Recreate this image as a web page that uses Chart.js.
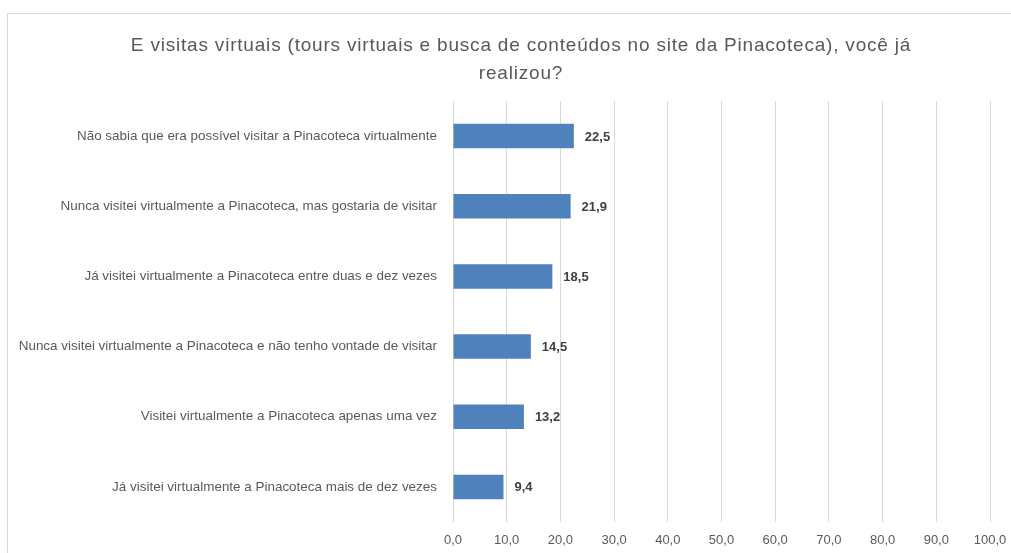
<!DOCTYPE html>
<html>
<head>
<meta charset="utf-8">
<script src="https://cdn.jsdelivr.net/npm/chart.js@4.4.1/dist/chart.umd.min.js"></script>
<style>
  html, body { margin: 0; padding: 0; background: #ffffff; overflow: hidden; width: 1011px; height: 553px; }
  #frame { position: absolute; left: 7px; top: 13px; border-left: 1px solid #d9d9d9; border-top: 1px solid #d9d9d9; width: 1026px; height: 539px; }
  canvas { display: block; }
</style>
</head>
<body>
<div id="frame"><canvas id="c" width="1026" height="539"></canvas></div>
<script>
const titleLines = [
  'E visitas virtuais (tours virtuais e busca de conteúdos no site da Pinacoteca), você já',
  'realizou?'
];
const categories = [
  'Não sabia que era possível visitar a Pinacoteca virtualmente',
  'Nunca visitei virtualmente a Pinacoteca, mas gostaria de visitar',
  'Já visitei virtualmente a Pinacoteca entre duas e dez vezes',
  'Nunca visitei virtualmente a Pinacoteca e não tenho vontade de visitar',
  'Visitei virtualmente a Pinacoteca apenas uma vez',
  'Já visitei virtualmente a Pinacoteca mais de dez vezes'
];
const values = [22.5, 21.9, 18.5, 14.5, 13.2, 9.4];
const axisMin = 0;
const axisMax = 100;
const axisStep = 10;

const fmt = v => Number(v).toFixed(1).replace('.', ',');
const FONT = "'Liberation Sans', Arial, sans-serif";

const titlePlugin = {
  id: 'titlePlugin',
  afterDraw(chart) {
    const ctx = chart.ctx;
    ctx.save();
    ctx.font = '19px ' + FONT;
    try { ctx.letterSpacing = '0.8px'; } catch (e) {}
    ctx.fillStyle = '#595959';
    ctx.textAlign = 'center';
    ctx.textBaseline = 'middle';
    const cx = chart.width / 2;
    titleLines.forEach((t, i) => ctx.fillText(t, cx, 32 + i * 28));
    ctx.restore();
  }
};

const valueLabels = {
  id: 'valueLabels',
  afterDatasetsDraw(chart) {
    const ctx = chart.ctx;
    const meta = chart.getDatasetMeta(0);
    ctx.save();
    ctx.font = 'bold 13px ' + FONT;
    ctx.fillStyle = '#404040';
    ctx.textAlign = 'left';
    ctx.textBaseline = 'middle';
    meta.data.forEach((bar, i) => {
      ctx.fillText(fmt(chart.data.datasets[0].data[i]), bar.x + 11, bar.y + 1);
    });
    ctx.restore();
  }
};

new Chart(document.getElementById('c'), {
  type: 'bar',
  data: {
    labels: categories,
    datasets: [{
      data: values,
      backgroundColor: '#4f81bd',
      borderWidth: 0,
      categoryPercentage: 1,
      barPercentage: 0.35
    }]
  },
  options: {
    indexAxis: 'y',
    responsive: false,
    animation: false,
    devicePixelRatio: 1,
    layout: { padding: { left: 0, right: 44, top: 87, bottom: 0 } },
    plugins: {
      legend: { display: false },
      tooltip: { enabled: false },
      title: { display: false }
    },
    scales: {
      x: {
        min: axisMin,
        max: axisMax,
        afterFit: s => { s.height = 31; },
        grid: { color: '#d9d9d9', lineWidth: 1, drawTicks: false },
        border: { display: false },
        ticks: {
          stepSize: axisStep,
          padding: 11,
          color: '#595959',
          font: { family: FONT, size: 13 },
          callback: v => fmt(v)
        }
      },
      y: {
        afterFit: s => { s.width = 445; },
        grid: { display: false, drawTicks: false },
        border: { display: false },
        ticks: {
          padding: 16,
          color: '#595959',
          font: { family: FONT, size: 13.45 }
        }
      }
    }
  },
  plugins: [valueLabels, titlePlugin]
});
</script>
</body>
</html>
